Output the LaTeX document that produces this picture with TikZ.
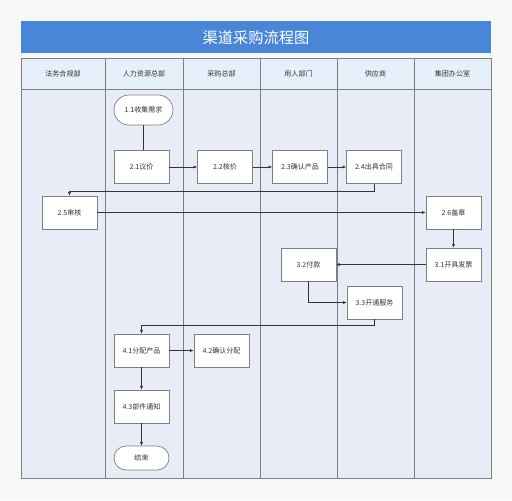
\documentclass[tikz,border=0pt]{standalone}
\usepackage{fontspec}
\setmainfont{Noto Sans CJK SC}
\usetikzlibrary{positioning,calc,arrows.meta}
\definecolor{titleblue}{HTML}{4A86D8}
\definecolor{headblue}{HTML}{E6F0FB}
\definecolor{lanefill}{HTML}{E8ECF7}
\definecolor{pagebg}{HTML}{F7F9F9}
\definecolor{linegray}{HTML}{7F7F7F}
\definecolor{textgray}{HTML}{333333}

\begin{document}
\begin{tikzpicture}[
    x=0.03cm, y=-0.03cm,
    lane/.style={draw=linegray, line width=0.6pt},
    stepbox/.style={draw=linegray, fill=white, line width=0.6pt, minimum width=1.65cm, minimum height=0.99cm, inner sep=0pt, font=\fontsize{6}{7}\selectfont, text=textgray},
    termbox/.style={stepbox, rounded corners=0.36cm, minimum height=0.72cm},
    link/.style={draw=textgray, line width=0.5pt},
    flow/.style={link, -{Latex[length=3pt,width=2.6pt]}}
]
    % page and title
    \fill[pagebg] (0,0) rectangle (512,500);
    \useasboundingbox (0,0) rectangle (512,500);
    \fill[titleblue] (21,21) rectangle (491,53);
    \node [text=white, font=\fontsize{13}{15}\selectfont] (title) at (256,37.5) {渠道采购流程图};

    % Lanes
    \foreach \xa/\xb/\lane in {21/105/法务合规部, 105/183/人力资源总部, 183/260/采购总部, 260/337/用人部门, 337/414/供应商, 414/491/集团办公室} {
        \fill[headblue] (\xa,58) rectangle (\xb,89);
        \fill[lanefill] (\xa,89) rectangle (\xb,478);
        \draw[lane] (\xa,58) rectangle (\xb,478);
        \draw[lane] (\xa,89) -- (\xb,89);
        \node [font=\fontsize{6}{7}\selectfont, text=textgray] (head-\xa) at ({(\xa+\xb)/2},73.5) {\lane};
    }

    % Steps
    \node [termbox, minimum width=1.77cm, minimum height=0.9cm, rounded corners=0.45cm] (s11) at (143.5,110) {1.1收集需求};
    \node [stepbox] (s21) at (141.5,167) {2.1议价};
    \node [stepbox] (s22) at (225,167) {2.2核价};
    \node [stepbox] (s23) at (300,167) {2.3确认产品};
    \node [stepbox] (s24) at (374,167) {2.4出具合同};
    \node [stepbox] (s25) at (69.5,212.5) {2.5审核};
    \node [stepbox] (s26) at (453.5,212.5) {2.6盖章};
    \node [stepbox] (s31) at (453.5,264.5) {3.1开具发票};
    \node [stepbox] (s32) at (308.5,264.5) {3.2付款};
    \node [stepbox] (s33) at (374.5,302.5) {3.3开通服务};
    \node [stepbox] (s41) at (141.5,350.5) {4.1分配产品};
    \node [stepbox] (s42) at (221.5,350.5) {4.2确认分配};
    \node [stepbox] (s43) at (141.5,406.5) {4.3部件通知};
    \node [termbox] (finish) at (141.5,458) {结束};

    % Connectors
    \draw[link] (s11.south) -- (s11.south |- s21.north);
    \draw[flow] (s21) -- (s22);
    \draw[flow] (s22) -- (s23);
    \draw[flow] (s23) -- (s24);
    \draw[flow] (s24.south) -- ++(0,7) -| (s25.north);
    \draw[flow] (s25) -- (s26);
    \draw[flow] (s26) -- (s31);
    \draw[flow] (s31) -- (s32);
    \draw[flow] (s32.south) |- (s33.west);
    \draw[flow] (s33.south) -- ++(0,6) -| (s41.north);
    \draw[flow] (s41) -- (s42);
    \draw[flow] (s41) -- (s43);
    \draw[flow] (s43) -- (finish);
\end{tikzpicture}
\end{document}
